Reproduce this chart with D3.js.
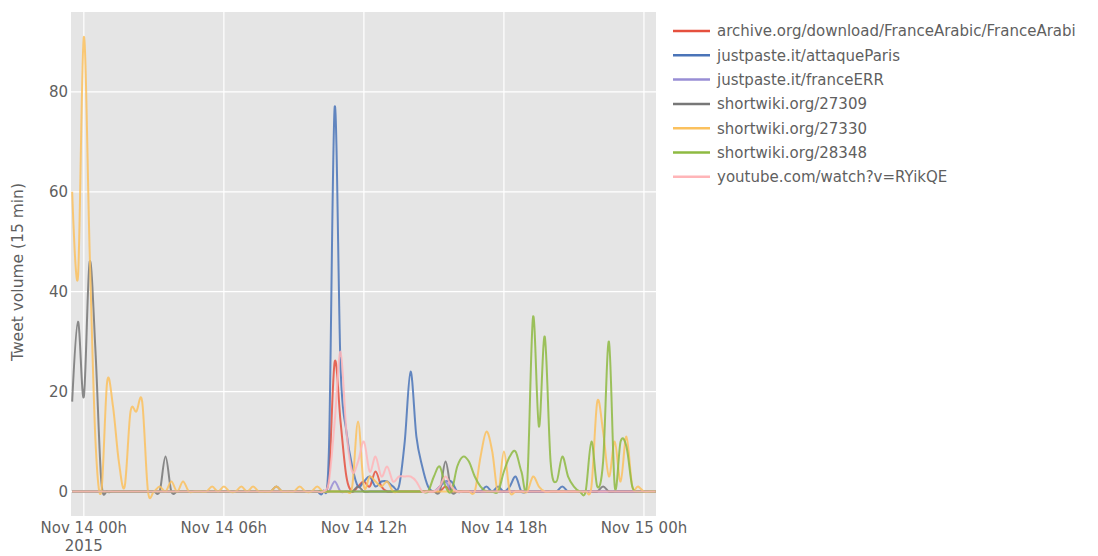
<!DOCTYPE html>
<html><head><meta charset="utf-8">
<script src="https://cdn.jsdelivr.net/npm/d3@7"></script>
<style>
body{margin:0;background:#fff;}
svg{display:block;font-family:"DejaVu Sans",Verdana,sans-serif;}
</style>
</head><body>
<svg id="chart" width="1098" height="556"></svg>
<script>
// ---- data (15-minute bins starting Nov 13 2015 23:30 UTC) ----
const startTime = "2015-11-13T23:30:00Z";
const stepMinutes = 15;

const seriesNames = [
  "archive.org/download/FranceArabic/FranceArabi",
  "justpaste.it/attaqueParis",
  "justpaste.it/franceERR",
  "shortwiki.org/27309",
  "shortwiki.org/27330",
  "shortwiki.org/28348",
  "youtube.com/watch?v=RYikQE"
];
const seriesColors = ["#E5503E","#4A74B8","#988ED5","#777777","#FBC15E","#8EBA42","#FFB5B8"];

const archiveVals = [
  0,0,0,0,0,0,0,0,0,0,
  0,0,0,0,0,0,0,0,0,0,
  0,0,0,0,0,0,0,0,0,0,
  0,0,0,0,0,0,0,0,0,0,
  0,0,0,0,3,26,14,3,0,1,
  2,1,4,1,0,0,0,0,0,0,
  0,0,0,0,1,0,0,0,0,0,
  0,0,0,0,0,0,0,0,0,0,
  0,0,0,0,0,0,0,0,0,0,
  0,0,0,0,0,0,0,0,0,0,
  0];
const attaqueVals = [
  0,0,0,0,0,0,0,0,0,0,
  0,0,0,0,0,0,0,0,0,0,
  0,0,0,0,0,0,0,0,0,0,
  0,0,0,0,0,0,0,0,0,0,
  0,0,0,0,8,77,25,12,5,1,
  2,3,1,2,2,1,1,10,24,11,
  5,1,0,1,2,2,0,0,0,0,
  0,1,0,1,0,1,3,0,0,0,
  0,0,0,0,1,0,0,0,0,0,
  0,0,0,0,0,0,0,0,0,0,
  0];
const franceErrVals = [
  0,0,0,0,0,0,0,0,0,0,
  0,0,0,0,0,0,0,0,0,0,
  0,0,0,0,0,0,0,0,0,0,
  0,0,0,0,0,0,0,0,0,0,
  0,0,0,0,0,2,0,0,0,0,
  0,0,0,0,0,0,0,0,0,0,
  0,0,0,1,2,0,0,0,0,0,
  0,0,0,0,0,0,0,0,0,0,
  0,0,0,0,0,0,0,0,0,0,
  0,0,0,0,0,0,0,0,0,0,
  0];
const sw27309Vals = [
  18,34,19,46,28,2,0,0,0,0,
  0,0,0,0,0,0,7,0,0,0,
  0,0,0,0,0,0,0,0,0,0,
  0,0,0,0,0,1,0,0,0,0,
  0,0,0,0,0,0,0,0,0,1,
  0,0,0,0,0,0,0,0,0,0,
  0,0,0,0,6,0,0,0,0,0,
  0,0,0,0,0,0,0,0,0,0,
  0,0,0,0,0,0,0,0,0,0,
  0,1,0,0,0,0,0,0,0,0,
  0];
const sw27330Vals = [
  60,43,91,48,10,0,22,17,6,1,
  16,16,18,0,0,1,0,2,0,2,
  0,0,0,0,1,0,1,0,0,1,
  0,1,0,0,0,1,0,0,0,1,
  0,0,1,0,0,0,0,0,1,14,
  1,3,2,1,2,0,0,0,0,0,
  0,0,0,0,0,0,0,0,0,0,
  7,12,8,0,8,0,0,0,0,3,
  1,0,0,0,0,0,0,0,0,1,
  18,12,3,10,2,11,1,1,0,0,
  0];
const sw28348Vals = [
  0,0,0,0,0,0,0,0,0,0,
  0,0,0,0,0,0,0,0,0,0,
  0,0,0,0,0,0,0,0,0,0,
  0,0,0,0,0,0,0,0,0,0,
  0,0,0,0,0,0,0,0,0,0,
  0,0,0,0,0,0,0,0,0,0,
  0,0,3,5,1,0,5,7,6,3,
  1,0,0,0,4,7,8,4,2,35,
  13,31,6,2,7,3,1,0,0,10,
  1,6,30,1,10,9,1,0,0,0,
  0];
const youtubeVals = [
  0,0,0,0,0,0,0,0,0,0,
  0,0,0,0,0,0,0,0,0,0,
  0,0,0,0,0,0,0,0,0,0,
  0,0,0,0,0,0,0,0,0,0,
  0,0,0,0,2,14,28,12,4,6,
  10,4,7,3,5,2,3,3,3,2,
  0,0,0,1,3,1,0,0,0,0,
  0,0,0,0,0,0,0,0,0,0,
  0,0,0,0,0,0,0,0,0,0,
  0,0,0,0,0,0,0,0,0,0,
  0];

const xTickTimes = ["2015-11-14T00:00:00Z","2015-11-14T06:00:00Z","2015-11-14T12:00:00Z","2015-11-14T18:00:00Z","2015-11-15T00:00:00Z"];
const xTickLabels = ["Nov 14 00h","Nov 14 06h","Nov 14 12h","Nov 14 18h","Nov 15 00h"];
const xTickSub = ["2015","","","",""];
const yTicks = [0,20,40,60,80];
const yTitle = "Tweet volume (15 min)";

// ---- build ----
const allVals = [archiveVals, attaqueVals, franceErrVals, sw27309Vals, sw27330Vals, sw28348Vals, youtubeVals];
const t0 = new Date(startTime).getTime();
const series = seriesNames.map((name, k) => ({
  name, color: seriesColors[k],
  points: allVals[k].map((v, i) => ({t: new Date(t0 + i*stepMinutes*60000), v}))
}));

const plot = {left: 71, top: 12, right: 656, bottom: 516};
const svg = d3.select("#chart");

const x = d3.scaleUtc()
  .domain([new Date("2015-11-13T23:27:00Z"), new Date("2015-11-15T00:31:00Z")])
  .range([plot.left, plot.right]);
const y = d3.scaleLinear().domain([-4.9, 96]).range([plot.bottom, plot.top]);

svg.append("rect").attr("x", plot.left).attr("y", plot.top)
  .attr("width", plot.right - plot.left).attr("height", plot.bottom - plot.top)
  .attr("fill", "#E5E5E5");

// grid
const grid = svg.append("g");
grid.selectAll(".gx").data(xTickTimes).join("line")
  .attr("x1", d => x(new Date(d))).attr("x2", d => x(new Date(d)))
  .attr("y1", plot.top).attr("y2", plot.bottom)
  .attr("stroke", "#fff").attr("stroke-width", 1.2);
grid.selectAll(".gy").data(yTicks).join("line")
  .attr("x1", plot.left).attr("x2", plot.right)
  .attr("y1", d => y(d)).attr("y2", d => y(d))
  .attr("stroke", "#fff").attr("stroke-width", 1.2);

// lines
svg.append("clipPath").attr("id", "clip").append("rect")
  .attr("x", plot.left).attr("y", plot.top)
  .attr("width", plot.right - plot.left).attr("height", plot.bottom - plot.top);
const line = d3.line().x(d => x(d.t)).y(d => y(d.v)).curve(d3.curveCardinal.tension(0));
svg.append("g").attr("clip-path", "url(#clip)")
  .selectAll("path").data(series).join("path")
  .attr("d", d => line(d.points))
  .attr("fill", "none").attr("stroke", d => d.color)
  .attr("stroke-width", 2).attr("stroke-opacity", 0.85)
  .attr("stroke-linejoin", "round");

// axes text
const txtColor = "#5f5f5f";
const fs = 15;
const xAxis = svg.append("g");
xAxis.selectAll("text.l1").data(xTickTimes).join("text")
  .attr("x", d => x(new Date(d))).attr("y", 533)
  .attr("text-anchor", "middle").attr("font-size", fs).attr("fill", txtColor)
  .text((d, i) => xTickLabels[i]);
xAxis.selectAll("text.l2").data(xTickTimes).join("text")
  .attr("x", d => x(new Date(d))).attr("y", 551)
  .attr("text-anchor", "middle").attr("font-size", fs).attr("fill", txtColor)
  .text((d, i) => xTickSub[i]);

svg.append("g").selectAll("text").data(yTicks).join("text")
  .attr("x", 68).attr("y", d => y(d)).attr("dy", "0.36em")
  .attr("text-anchor", "end").attr("font-size", fs).attr("fill", txtColor)
  .text(d => d);

svg.append("text")
  .attr("transform", `translate(23,${(plot.top + plot.bottom)/2 + 8}) rotate(-90)`)
  .attr("text-anchor", "middle").attr("font-size", fs + 0.5).attr("fill", txtColor)
  .text(yTitle);

// legend
const lg = svg.append("g");
const leg = lg.selectAll("g").data(series).join("g")
  .attr("transform", (d, i) => `translate(673,${31 + i*24.3})`);
leg.append("line").attr("x1", 0).attr("x2", 37).attr("y1", 0).attr("y2", 0)
  .attr("stroke", d => d.color).attr("stroke-width", 2.5);
leg.append("text").attr("x", 44).attr("y", 0).attr("dy", "0.36em")
  .attr("font-size", fs).attr("fill", txtColor).text(d => d.name);
</script>
</body></html>
